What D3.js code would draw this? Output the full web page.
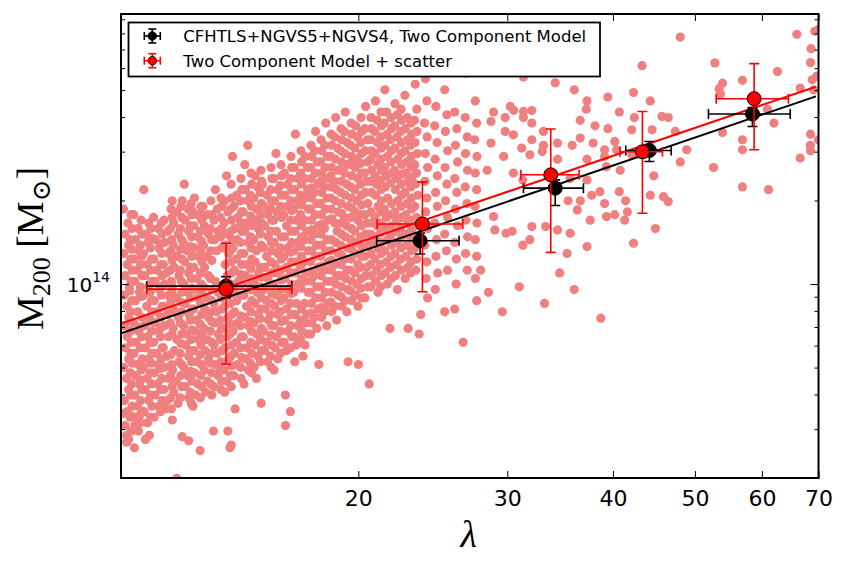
<!DOCTYPE html>
<html><head><meta charset="utf-8">
<script src="https://cdn.jsdelivr.net/npm/d3@7"></script>
<style>body{margin:0;background:#fff}svg{display:block}</style>
</head><body><svg id="c" width="846" height="571"></svg>
<script>
// ---------- axis settings ----------
const xDomain = [10.48, 70];
const yDomain = [2e13, 9.4e14];
const xTickValues = [20, 30, 40, 50, 60, 70];
const yMajorTicks = [1e14];
const yMinorTicks = [2e13,3e13,4e13,5e13,6e13,7e13,8e13,9e13,2e14,3e14,4e14,5e14,6e14,7e14,8e14,9e14];

// ---------- CFHTLS+NGVS5+NGVS4, Two Component Model (black) ----------
const blackLambda   = [13.95, 23.66, 34.18, 44.17, 58.48];
const blackLambdaLo = [11.24, 21.02, 31.35, 41.42, 51.88];
const blackLambdaHi = [16.68, 26.31, 36.91, 46.87, 64.81];
const blackMass     = [0.983e14, 1.433e14, 2.216e14, 3.028e14, 4.099e14];
const blackMassLo   = [0.892e14, 1.283e14, 1.918e14, 2.764e14, 3.698e14];
const blackMassHi   = [1.063e14, 1.528e14, 2.374e14, 3.264e14, 4.329e14];

// ---------- Two Component Model + scatter (red) ----------
const redLambda   = [13.95, 23.81, 33.77, 43.34, 58.75];
const redLambdaLo = [11.24, 21.05, 31.13, 40.79, 52.98];
const redLambdaHi = [16.68, 26.58, 36.48, 45.77, 64.5];
const redMass     = [0.959e14, 1.646e14, 2.475e14, 2.996e14, 4.655e14];
const redMassLo   = [0.514e14, 0.938e14, 1.301e14, 1.800e14, 3.046e14];
const redMassHi   = [1.402e14, 2.335e14, 3.618e14, 4.188e14, 6.226e14];

// ---------- best-fit lines ----------
const fitLambda = [10.48, 69.5];
const blackFitMass = [6.64e13, 4.746e14];
const redFitMass = [7.21e13, 5.143e14];

// ---------- individual clusters: [lambda, log10(M200/Msun)] ----------
const scatter = [
[10.55,14.27],[10.68,14.22],[10.6,14.18],[10.7,14.14],[10.56,14.11],[10.66,14.07],[10.6,14.03],[10.72,13.99],[10.57,13.96],[10.65,13.92],[10.7,13.88],[10.58,13.85],[10.66,13.81],[10.6,13.77],[10.7,13.73],[10.56,13.7],[10.64,13.66],[10.7,13.62],[10.58,13.58],[10.66,13.54],[10.6,13.49],[10.7,13.44],
[10.85,14.25],[10.98,14.2],[10.9,14.16],[11.0,14.12],[10.86,14.09],[10.95,14.05],[10.88,14.01],[11.02,13.97],[10.9,13.94],[10.97,13.9],[10.85,13.86],[11.0,13.83],[10.92,13.79],[10.86,13.75],[10.98,13.71],[10.9,13.67],[11.02,13.64],[10.88,13.6],[10.96,13.56],[10.9,13.52],[10.99,13.47],[10.87,13.41],
[11.15,14.34],[11.3,14.22],[11.2,14.18],[11.28,14.15],[11.14,14.11],[11.25,14.07],[11.18,14.03],[11.3,13.99],[11.15,13.96],[11.24,13.92],[11.32,13.88],[11.17,13.85],[11.27,13.81],[11.2,13.77],[11.3,13.73],[11.14,13.7],[11.25,13.66],[11.19,13.62],[11.3,13.58],[11.16,13.54],[11.26,13.5],[11.2,13.44],
[11.45,14.24],[11.6,14.2],[11.5,14.16],[11.62,14.13],[11.46,14.09],[11.56,14.05],[11.5,14.01],[11.63,13.98],[11.47,13.94],[11.57,13.9],[11.5,13.86],[11.62,13.83],[11.45,13.79],[11.55,13.75],[11.6,13.71],[11.48,13.68],[11.58,13.64],[11.5,13.6],[11.62,13.56],[11.47,13.52],
[11.78,14.23],[11.9,14.19],[11.8,14.15],[11.92,14.11],[11.76,14.07],[11.86,14.04],[11.8,14.0],[11.93,13.96],[11.77,13.92],[11.88,13.89],[11.8,13.85],[11.92,13.81],[11.76,13.77],[11.86,13.74],[11.8,13.7],[11.93,13.66],[11.78,13.62],[11.88,13.58],[11.82,13.55],
[12.05,14.3],[12.2,14.26],[12.1,14.22],[12.25,14.18],[12.08,14.14],[12.2,14.1],[12.12,14.06],[12.27,14.03],[12.06,13.99],[12.18,13.95],[12.1,13.91],[12.25,13.88],[12.08,13.84],[12.2,13.8],[12.12,13.76],[12.27,13.72],[12.06,13.69],[12.18,13.65],[12.1,13.61],[12.24,13.57],[12.05,13.51],[12.38,13.45],
[12.45,14.36],[12.58,14.27],[12.48,14.23],[12.6,14.19],[12.42,14.15],[12.55,14.12],[12.47,14.08],[12.6,14.04],[12.44,14.0],[12.56,13.97],[12.48,13.93],[12.62,13.89],[12.43,13.85],[12.55,13.82],[12.5,13.78],[12.6,13.74],[12.44,13.7],[12.56,13.67],[12.48,13.63],[12.6,13.59],
[12.8,14.31],[12.9,14.25],[12.78,14.21],[12.92,14.17],[12.82,14.13],[12.95,14.1],[12.78,14.06],[12.88,14.02],[12.8,13.98],[12.93,13.95],[12.77,13.91],[12.87,13.87],[12.82,13.83],[12.94,13.8],[12.78,13.76],[12.88,13.72],[12.8,13.68],[12.92,13.64],[12.84,13.6],[12.75,13.56],
[13.1,14.28],[13.25,14.25],[13.15,14.21],[13.3,14.18],[13.12,14.14],[13.24,14.1],[13.16,14.06],[13.3,14.03],[13.12,13.99],[13.25,13.95],[13.17,13.91],[13.3,13.88],[13.13,13.84],[13.25,13.8],[13.18,13.76],[13.3,13.73],[13.14,13.69],[13.26,13.65],[13.2,13.61],[13.0,13.4],
[13.55,14.34],[13.62,14.27],[13.5,14.23],[13.65,14.19],[13.52,14.16],[13.6,14.12],[13.55,14.01],[13.66,13.97],[13.5,13.93],[13.6,13.9],[13.53,13.86],[13.66,13.82],[13.5,13.78],[13.62,13.75],[13.55,13.71],[13.65,13.67],[13.5,13.63],[13.48,13.47],
[13.97,14.39],[13.9,14.3],[14.02,14.26],[13.88,14.22],[14.0,14.18],[13.9,14.14],[14.05,14.11],[13.92,14.07],[14.0,14.03],[13.86,13.99],[13.97,13.96],[13.9,13.92],[14.04,13.88],[13.88,13.84],[14.0,13.81],[13.92,13.77],[14.05,13.73],[13.88,13.69],[13.98,13.65],[13.9,13.61],[14.02,13.47],
[14.2,14.46],[14.35,14.32],[14.25,14.28],[14.4,14.24],[14.28,14.2],[14.38,14.16],[14.22,14.13],[14.35,14.09],[14.27,14.05],[14.42,14.01],[14.25,13.98],[14.36,13.94],[14.28,13.9],[14.4,13.86],[14.22,13.83],[14.34,13.79],[14.27,13.75],[14.4,13.71],[14.25,13.67],[14.3,13.55],[14.15,13.42],
[14.68,14.43],[14.8,14.5],[14.7,14.34],[14.8,14.3],[14.62,14.26],[14.75,14.22],[14.68,14.19],[14.82,14.15],[14.64,14.11],[14.76,14.07],[14.7,14.03],[14.84,14.0],[14.64,13.96],[14.75,13.92],[14.68,13.88],[14.82,13.85],[14.62,13.81],[14.75,13.77],[14.7,13.73],[14.82,13.69],[14.65,13.64],
[15.1,14.39],[15.2,14.35],[15.05,14.31],[15.18,14.27],[15.08,14.23],[15.22,14.2],[15.05,14.16],[15.15,14.12],[15.1,14.08],[15.24,14.04],[15.06,14.01],[15.17,13.97],[15.1,13.93],[15.23,13.89],[15.05,13.86],[15.16,13.82],[15.1,13.78],[15.22,13.74],[15.06,13.7],[15.15,13.66],
[15.4,14.36],[15.6,14.32],[15.48,14.28],[15.62,14.25],[15.5,14.21],[15.65,14.17],[15.45,14.13],[15.58,14.1],[15.5,14.06],[15.63,14.02],[15.46,13.98],[15.58,13.94],[15.52,13.91],[15.65,13.87],[15.45,13.83],[15.57,13.79],[15.5,13.76],[15.62,13.72],[15.35,13.57],
[15.98,14.47],[15.9,14.38],[16.05,14.34],[15.92,14.3],[16.02,14.26],[15.88,14.23],[16.0,14.19],[15.9,14.15],[16.06,14.11],[15.94,14.07],[16.02,14.04],[15.88,14.0],[16.0,13.96],[15.92,13.92],[16.06,13.89],[15.9,13.85],[16.0,13.81],[15.94,13.77],[16.06,13.73],[15.9,13.69],
[16.35,14.4],[16.5,14.36],[16.38,14.32],[16.48,14.28],[16.32,14.25],[16.45,14.21],[16.36,14.17],[16.5,14.13],[16.33,14.1],[16.44,14.06],[16.38,14.02],[16.5,13.98],[16.32,13.95],[16.44,13.91],[16.38,13.87],[16.5,13.83],[16.34,13.79],[16.44,13.76],[16.4,13.6],[16.4,13.49],[16.62,13.54],
[16.85,14.54],[16.8,14.42],[16.95,14.38],[16.82,14.34],[16.92,14.3],[16.78,14.27],[16.9,14.23],[16.82,14.19],[16.96,14.15],[16.8,14.12],[16.9,14.08],[16.84,14.04],[16.96,14.0],[16.78,13.97],[16.9,13.93],[16.84,13.89],[16.96,13.85],[16.8,13.81],[16.9,13.78],[16.82,13.72],
[17.3,14.46],[17.4,14.42],[17.28,14.38],[17.42,14.34],[17.32,14.31],[17.45,14.27],[17.28,14.23],[17.38,14.19],[17.3,14.16],[17.44,14.12],[17.26,14.08],[17.36,14.04],[17.3,14.01],[17.44,13.97],[17.28,13.93],[17.38,13.89],[17.32,13.86],[17.44,13.82],[17.3,13.78],[17.2,13.74],
[17.8,14.55],[17.75,14.48],[17.88,14.44],[17.78,14.4],[17.9,14.36],[17.74,14.33],[17.86,14.29],[17.78,14.25],[17.92,14.21],[17.76,14.18],[17.86,14.14],[17.8,14.1],[17.92,14.06],[17.74,14.03],[17.86,13.99],[17.8,13.95],[17.92,13.91],[17.76,13.88],[17.86,13.84],[17.96,13.71],
[18.3,14.58],[18.25,14.5],[18.38,14.46],[18.26,14.42],[18.4,14.38],[18.22,14.35],[18.35,14.31],[18.28,14.27],[18.4,14.23],[18.24,14.2],[18.36,14.16],[18.3,14.12],[18.42,14.08],[18.24,14.05],[18.35,14.01],[18.28,13.97],[18.4,13.93],[18.25,13.9],[18.35,13.85],
[18.8,14.6],[18.75,14.53],[18.9,14.49],[18.78,14.45],[18.92,14.41],[18.74,14.37],[18.86,14.34],[18.78,14.3],[18.92,14.26],[18.76,14.22],[18.88,14.19],[18.8,14.15],[18.94,14.11],[18.76,14.07],[18.86,14.03],[18.8,14.0],[18.92,13.96],[18.75,13.92],[18.85,13.87],
[19.3,14.62],[19.25,14.55],[19.4,14.51],[19.28,14.47],[19.42,14.43],[19.26,14.4],[19.38,14.36],[19.3,14.32],[19.44,14.28],[19.26,14.24],[19.38,14.21],[19.3,14.17],[19.44,14.13],[19.28,14.09],[19.38,14.05],[19.32,14.02],[19.44,13.98],[19.28,13.94],[19.38,13.9],[19.45,13.72],
[19.85,14.57],[19.95,14.53],[19.8,14.49],[19.92,14.45],[19.82,14.42],[19.98,14.38],[19.8,14.34],[19.92,14.3],[19.84,14.26],[19.98,14.23],[19.8,14.19],[19.92,14.15],[19.85,14.11],[19.98,14.07],[19.82,14.04],[19.92,14.0],[19.86,13.96],[19.98,13.92],[20.0,13.71],[20.6,13.64],
[20.4,14.64],[20.35,14.56],[20.5,14.52],[20.38,14.48],[20.52,14.44],[20.34,14.4],[20.46,14.37],[20.38,14.33],[20.52,14.29],[20.36,14.25],[20.48,14.22],[20.4,14.18],[20.54,14.14],[20.36,14.1],[20.46,14.06],[20.4,14.03],[20.52,13.99],[20.36,13.95],
[20.95,14.66],[21.05,14.59],[20.92,14.55],[21.06,14.51],[20.94,14.47],[21.08,14.43],[20.92,14.39],[21.02,14.36],[20.95,14.32],[21.1,14.28],[20.92,14.24],[21.04,14.21],[20.96,14.17],[21.1,14.13],[20.92,14.09],[21.02,14.05],[20.96,14.01],[21.1,13.97],
[21.5,14.7],[21.6,14.62],[21.46,14.58],[21.62,14.54],[21.5,14.5],[21.64,14.46],[21.48,14.42],[21.58,14.39],[21.52,14.35],[21.66,14.31],[21.46,14.27],[21.58,14.24],[21.52,14.2],[21.66,14.16],[21.48,14.12],[21.58,14.08],[21.52,14.04],[21.64,14.0],[21.8,13.84],
[22.1,14.65],[22.24,14.61],[22.08,14.57],[22.22,14.53],[22.1,14.49],[22.26,14.45],[22.06,14.41],[22.2,14.38],[22.12,14.34],[22.26,14.3],[22.08,14.26],[22.2,14.23],[22.12,14.19],[22.26,14.15],[22.08,14.11],[22.18,14.07],[22.12,14.03],[22.24,13.98],
[22.7,14.68],[22.85,14.6],[22.72,14.56],[22.86,14.52],[22.7,14.48],[22.82,14.44],[22.74,14.4],[22.88,14.37],[22.7,14.33],[22.82,14.29],[22.76,14.25],[22.88,14.22],[22.7,14.18],[22.82,14.14],[22.76,14.1],[22.88,14.06],[22.72,14.02],[22.9,13.84],
[23.35,14.72],[23.45,14.63],[23.3,14.59],[23.46,14.55],[23.34,14.51],[23.48,14.47],[23.32,14.43],[23.44,14.4],[23.36,14.36],[23.5,14.32],[23.32,14.28],[23.44,14.24],[23.38,14.21],[23.5,14.17],[23.32,14.13],[23.44,14.09],[23.38,14.05],[23.6,13.82],[23.7,13.89],
[24.0,14.74],[24.1,14.66],[23.95,14.58],[24.12,14.53],[24.0,14.47],[24.15,14.42],[23.98,14.37],[24.1,14.31],[24.02,14.26],[24.15,14.2],[23.96,14.14],[24.1,14.08],[24.05,14.02],[24.15,13.95],
[24.7,14.64],[24.62,14.57],[24.78,14.51],[24.65,14.45],[24.8,14.39],[24.68,14.33],[24.8,14.28],[24.62,14.22],[24.75,14.16],[24.7,14.1],[24.82,14.04],[24.66,13.98],
[25.3,14.7],[25.45,14.61],[25.35,14.55],[25.5,14.48],[25.32,14.42],[25.45,14.36],[25.36,14.3],[25.5,14.24],[25.3,14.18],[25.42,14.12],[25.5,14.05],[25.3,13.9],
[26.0,14.62],[26.15,14.56],[26.05,14.5],[26.2,14.44],[26.0,14.38],[26.15,14.33],[26.05,14.27],[26.2,14.21],[26.0,14.15],[26.12,14.09],[26.1,14.0],[26.0,13.91],
[26.8,14.76],[26.75,14.6],[26.9,14.53],[26.78,14.47],[26.92,14.41],[26.75,14.35],[26.88,14.29],[26.8,14.23],[26.92,14.17],[26.78,14.11],[26.9,14.05],[26.6,13.79],
[27.5,14.66],[27.6,14.58],[27.45,14.52],[27.62,14.46],[27.5,14.4],[27.6,14.34],[27.48,14.28],[27.62,14.22],[27.5,14.16],[27.6,14.1],[27.5,14.02],[27.6,13.94],
[10.64,13.43],[10.78,13.525],[10.88,13.49],[12.2,13.3],[12.6,13.435],[10.64,13.455],[11.32,13.455],[11.03,13.527],[10.55,13.534],[14.1,13.41],
[12.38,14.3],[12.72,14.265],[13.03,14.28],
[28.9,14.62],[30.24,14.64],[30.52,14.626],[31.35,14.622],[32.07,14.625],[32.07,14.58],[31.35,14.6],[29.83,14.6],[29.83,14.55],[31.35,14.746],[34.18,14.725],[36.0,14.7],[37.27,14.66],[39.45,14.674],[36.59,14.59],[37.2,14.63],[38.1,14.57],[39.45,14.56],[40.7,14.62],[42.3,14.69],[43.3,14.787],[44.28,14.66],[42.4,14.6],[42.1,14.556],[45.7,14.604],[46.5,14.6],[44.5,14.556],[47.4,14.55],[48.9,14.484],[48.05,14.44],[52.6,14.42],[56.9,14.52],[56.9,14.484],[53.9,14.546],[56.9,14.35],[61.1,14.34],[60.9,14.63],[62.0,14.58],[66.6,14.454],[68.5,14.48],[68.5,14.54],[69.1,14.7],[66.6,14.706],[52.8,14.797],[62.6,14.766],[68.5,14.798],[68.8,14.736],[56.9,14.734],[53.9,14.724],[53.4,14.704],[53.6,14.685],
[45.9,14.315],[44.28,14.32],[44.7,14.39],[46.5,14.297],[44.9,14.2],[42.3,14.147],[41.4,14.3],[41.6,14.26],[40.2,14.25],[41.3,14.23],[39.3,14.243],[39.1,14.29],[38.6,14.333],[40.7,14.333],[40.8,14.41],[42.1,14.466],[40.2,14.514],[40.4,14.484],[39.1,14.484],[39.1,14.46],[39.3,14.423],[37.9,14.508],[36.59,14.526],[35.8,14.5],[37.27,14.45],[37.27,14.375],[36.3,14.267],[37.6,14.23],[37.27,14.135],[35.3,14.11],[34.4,14.195],[35.6,14.183],[33.3,14.207],[32.07,14.207],[31.9,14.16],[31.3,14.14],[30.4,14.19],[29.9,14.183],[29.0,14.195],[28.9,14.243],[28.4,14.41],[30.5,14.4],[31.3,14.375],[31.2,14.49],[32.07,14.52],[33.1,14.55],[34.4,14.508],[30.5,14.538],[28.7,14.508],[29.7,14.46],[31.9,14.466],[33.1,14.5],[33.0,14.478],[34.4,14.45],[35.6,14.38],[35.4,14.3],[36.6,14.3],[37.75,14.32],[28.7,14.586],
[27.9,14.05],[28.5,13.97],[29.6,13.9],[31.0,13.99],[33.2,13.93],[34.6,14.04],[36.0,13.98],[38.7,13.877],
[48.05,14.89],[66.0,14.9],[69.97,14.917],[69.3,14.911],[68.6,14.848],[69.6,14.748],[69.97,14.52],[68.46,14.5],
[10.77,14.25],[10.8,14.2],[10.75,14.16],[10.79,14.125],[10.76,14.09],[10.8,14.05],[10.77,14.01],[10.74,13.975],[10.79,13.94],[10.76,13.9],[10.8,13.865],[10.75,13.83],[10.78,13.79],[10.76,13.75],[10.8,13.715],[10.75,13.68],[10.79,13.64],[10.76,13.6],[10.8,13.56],[10.74,13.52],[10.78,13.47],
[11.07,14.23],[11.1,14.18],[11.05,14.14],[11.09,14.1],[11.06,14.07],[11.1,14.03],[11.05,13.99],[11.08,13.955],[11.1,13.88],[11.06,13.845],[11.09,13.81],[11.05,13.77],[11.1,13.73],[11.07,13.69],[11.04,13.655],[11.09,13.62],[11.06,13.58],[11.1,13.54],[11.05,13.5],
[11.37,14.2],[11.4,14.165],[11.35,14.13],[11.39,14.09],[11.36,14.05],[11.4,14.01],[11.35,13.97],[11.38,13.94],[11.4,13.9],[11.36,13.865],[11.39,13.83],[11.35,13.79],[11.4,13.75],[11.37,13.715],[11.34,13.68],[11.39,13.64],[11.36,13.6],[11.4,13.56],[11.35,13.52],
[11.69,14.22],[11.72,14.18],[11.67,14.145],[11.71,14.11],[11.68,14.07],[11.72,14.03],[11.67,13.99],[11.7,13.96],[11.72,13.92],[11.68,13.88],[11.71,13.845],[11.67,13.81],[11.72,13.77],[11.69,13.73],[11.66,13.695],[11.71,13.66],[11.68,13.62],[11.72,13.58],[11.67,13.54],
[12.01,14.27],[12.04,14.24],[11.99,14.2],[12.03,14.16],[12.0,14.12],[12.04,14.085],[11.99,14.05],[12.02,14.01],[12.04,13.97],[12.0,13.935],[12.03,13.9],[11.99,13.86],[12.04,13.82],[12.0,13.745],[12.03,13.71],[11.99,13.67],[12.04,13.63],[12.0,13.59],[12.02,13.55],
[12.34,14.28],[12.37,14.24],[12.32,14.2],[12.36,14.16],[12.33,14.125],[12.37,14.09],[12.32,14.05],[12.35,14.01],[12.37,13.97],[12.33,13.935],[12.36,13.9],[12.32,13.86],[12.37,13.82],[12.34,13.785],[12.31,13.75],[12.36,13.71],[12.33,13.67],[12.37,13.63],[12.32,13.59],
[12.68,14.29],[12.71,14.25],[12.66,14.21],[12.7,14.17],[12.67,14.135],[12.71,14.1],[12.66,14.06],[12.69,14.02],[12.71,13.985],[12.67,13.95],[12.7,13.91],[12.66,13.87],[12.71,13.835],[12.68,13.8],[12.65,13.76],[12.7,13.72],[12.67,13.685],[12.71,13.65],[12.66,13.61],[12.69,13.57],
[13.03,14.25],[13.06,14.23],[13.01,14.19],[13.05,14.155],[13.02,14.12],[13.06,14.08],[13.01,14.04],[13.04,14.0],[13.06,13.97],[13.02,13.93],[13.05,13.89],[13.01,13.855],[13.06,13.82],[13.03,13.78],[13.0,13.745],[13.05,13.71],[13.02,13.67],[13.06,13.63],[13.01,13.59],
[13.39,14.3],[13.42,14.25],[13.37,14.2],[13.41,14.16],[13.38,14.12],[13.42,14.085],[13.37,14.02],[13.4,13.98],[13.42,13.94],[13.38,13.9],[13.41,13.865],[13.37,13.83],[13.42,13.79],[13.39,13.75],[13.36,13.715],[13.41,13.68],[13.38,13.64],[13.42,13.6],
[13.76,14.31],[13.79,14.28],[13.74,14.24],[13.78,14.2],[13.75,14.17],[13.79,14.13],[13.74,13.99],[13.77,13.95],[13.79,13.91],[13.75,13.87],[13.78,13.84],[13.74,13.8],[13.79,13.76],[13.76,13.72],[13.73,13.69],[13.78,13.65],[13.75,13.62],
[14.14,14.36],[14.17,14.31],[14.12,14.27],[14.16,14.23],[14.13,14.19],[14.17,14.16],[14.12,14.12],[14.15,14.08],[14.17,14.04],[14.13,14.0],[14.16,13.965],[14.12,13.93],[14.17,13.89],[14.14,13.855],[14.11,13.82],[14.16,13.78],[14.13,13.74],[14.17,13.705],[14.12,13.67],[14.15,13.63],
[14.53,14.38],[14.56,14.34],[14.51,14.3],[14.55,14.26],[14.52,14.22],[14.56,14.19],[14.51,14.15],[14.54,14.11],[14.56,14.07],[14.52,14.035],[14.55,14.0],[14.51,13.96],[14.53,13.885],[14.5,13.85],[14.55,13.81],[14.52,13.77],[14.56,13.735],[14.51,13.7],[14.54,13.66],
[14.93,14.4],[14.96,14.36],[14.91,14.32],[14.95,14.28],[14.92,14.245],[14.96,14.21],[14.91,14.17],[14.94,14.13],[14.96,14.09],[14.92,14.055],[14.95,14.02],[14.91,13.98],[14.96,13.94],[14.93,13.9],[14.9,13.865],[14.95,13.83],[14.92,13.79],[14.96,13.75],[14.91,13.715],[14.94,13.68],
[15.34,14.41],[15.37,14.37],[15.32,14.33],[15.36,14.29],[15.33,14.25],[15.37,14.22],[15.32,14.18],[15.35,14.14],[15.33,14.06],[15.36,14.025],[15.32,13.99],[15.37,13.95],[15.34,13.91],[15.31,13.875],[15.36,13.84],[15.33,13.8],[15.37,13.76],[15.32,13.72],
[15.77,14.42],[15.8,14.38],[15.75,14.34],[15.79,14.3],[15.76,14.27],[15.8,14.23],[15.75,14.19],[15.78,14.15],[15.8,14.12],[15.76,14.08],[15.79,14.04],[15.75,14.0],[15.8,13.965],[15.77,13.93],[15.74,13.89],[15.79,13.85],[15.76,13.815],[15.8,13.78],[15.75,13.74],[15.78,13.7],
[16.2,14.43],[16.23,14.39],[16.18,14.355],[16.22,14.32],[16.19,14.28],[16.23,14.24],[16.21,14.17],[16.18,14.13],[16.22,14.09],[16.19,14.05],[16.23,14.015],[16.18,13.98],[16.21,13.94],[16.17,13.9],[16.22,13.865],[16.19,13.83],[16.23,13.79],[16.18,13.75],
[16.65,14.46],[16.68,14.42],[16.63,14.38],[16.67,14.34],[16.64,14.3],[16.68,14.265],[16.63,14.23],[16.66,14.19],[16.68,14.15],[16.64,14.115],[16.67,14.08],[16.63,14.04],[16.68,14.0],[16.65,13.965],[16.62,13.93],[16.67,13.89],[16.64,13.85],[16.68,13.81],[16.63,13.77],
[17.11,14.48],[17.14,14.44],[17.09,14.4],[17.13,14.36],[17.1,14.32],[17.14,14.285],[17.09,14.25],[17.12,14.21],[17.14,14.17],[17.1,14.135],[17.13,14.1],[17.09,14.06],[17.14,14.02],[17.11,13.985],[17.13,13.91],[17.1,13.87],[17.14,13.83],[17.09,13.8],
[17.58,14.5],[17.61,14.46],[17.56,14.42],[17.6,14.38],[17.57,14.345],[17.61,14.31],[17.56,14.27],[17.59,14.23],[17.61,14.195],[17.57,14.16],[17.6,14.12],[17.56,14.08],[17.61,14.045],[17.58,14.01],[17.55,13.97],[17.6,13.93],[17.57,13.895],[17.61,13.86],[17.56,13.82],
[18.07,14.52],[18.1,14.48],[18.05,14.44],[18.09,14.4],[18.06,14.37],[18.1,14.33],[18.05,14.29],[18.08,14.25],[18.1,14.215],[18.06,14.18],[18.09,14.14],[18.05,14.1],[18.1,14.065],[18.07,14.03],[18.04,13.99],[18.09,13.95],[18.06,13.915],[18.1,13.88],
[18.57,14.54],[18.6,14.5],[18.55,14.46],[18.59,14.42],[18.56,14.39],[18.6,14.35],[18.55,14.31],[18.58,14.27],[18.6,14.235],[18.59,14.16],[18.55,14.12],[18.6,14.085],[18.57,14.05],[18.54,14.01],[18.59,13.97],[18.56,13.935],[18.6,13.9],
[19.08,14.56],[19.11,14.52],[19.06,14.48],[19.1,14.44],[19.07,14.41],[19.11,14.37],[19.06,14.33],[19.09,14.29],[19.11,14.255],[19.07,14.22],[19.1,14.18],[19.06,14.14],[19.11,14.105],[19.08,14.07],[19.05,14.03],[19.1,13.99],[19.07,13.955],[19.11,13.92],
[19.61,14.58],[19.64,14.54],[19.59,14.5],[19.63,14.46],[19.6,14.43],[19.64,14.39],[19.59,14.35],[19.62,14.31],[19.64,14.275],[19.6,14.24],[19.63,14.2],[19.59,14.16],[19.64,14.125],[19.61,14.09],[19.58,14.05],[19.63,14.01],[19.6,13.975],[19.64,13.94],
[20.15,14.6],[20.18,14.55],[20.13,14.51],[20.17,14.47],[20.14,14.435],[20.18,14.4],[20.13,14.36],[20.16,14.32],[20.18,14.285],[20.14,14.25],[20.17,14.21],[20.13,14.17],[20.18,14.135],[20.15,14.1],[20.12,14.06],[20.17,14.02],[20.14,13.985],[20.18,13.95],
[20.7,14.6],[20.73,14.56],[20.68,14.52],[20.72,14.48],[20.69,14.45],[20.73,14.41],[20.68,14.37],[20.71,14.33],[20.69,14.26],[20.72,14.22],[20.68,14.18],[20.73,14.15],[20.7,14.11],[20.67,14.07],[20.72,14.03],[20.69,13.99],
[21.27,14.62],[21.3,14.57],[21.25,14.53],[21.29,14.49],[21.26,14.45],[21.3,14.41],[21.25,14.375],[21.28,14.34],[21.3,14.3],[21.26,14.26],[21.29,14.22],[21.25,14.185],[21.3,14.15],[21.27,14.11],[21.24,14.07],[21.29,14.03],[21.26,13.99],
[21.86,14.6],[21.89,14.56],[21.84,14.52],[21.88,14.48],[21.85,14.44],[21.89,14.4],[21.84,14.365],[21.89,14.29],[21.85,14.25],[21.88,14.21],[21.84,14.175],[21.89,14.14],[21.86,14.1],[21.83,14.06],[21.88,14.02],
[22.47,14.63],[22.5,14.59],[22.45,14.55],[22.49,14.51],[22.46,14.47],[22.5,14.43],[22.45,14.395],[22.48,14.36],[22.5,14.32],[22.46,14.28],[22.49,14.24],[22.45,14.205],[22.5,14.17],[22.47,14.13],[22.44,14.09],[22.49,14.05],
[23.09,14.58],[23.12,14.54],[23.07,14.5],[23.11,14.46],[23.08,14.42],[23.12,14.385],[23.07,14.35],[23.1,14.31],[23.12,14.27],[23.08,14.23],[23.11,14.195],[23.07,14.16],[23.12,14.12],[23.09,14.08],[23.06,14.04]
];

// ---------- drawing ----------
const svg = d3.select("#c");
const X0 = 121, X1 = 818.5, Y0 = 14, Y1 = 478;
const x = d3.scaleLog().domain(xDomain).range([X0, X1]);
const y = d3.scaleLog().domain(yDomain).range([Y1, Y0]);

svg.append("rect").attr("width", 846).attr("height", 571).attr("fill", "#fff");
svg.append("defs").append("clipPath").attr("id", "clip")
  .append("rect").attr("x", X0).attr("y", Y0).attr("width", X1 - X0).attr("height", Y1 - Y0);
const plot = svg.append("g").attr("clip-path", "url(#clip)");

plot.append("g").selectAll("circle").data(scatter).join("circle")
  .attr("cx", d => x(d[0])).attr("cy", d => y(Math.pow(10, d[1])))
  .attr("r", 4.6).attr("fill", "#F08080");

const line = d3.line().x(d => x(d[0])).y(d => y(d[1]));
plot.append("path").datum(d3.zip(fitLambda, blackFitMass)).attr("d", line)
  .attr("fill", "none").attr("stroke", "#000").attr("stroke-width", 2);
plot.append("path").datum(d3.zip(fitLambda, redFitMass)).attr("d", line)
  .attr("fill", "none").attr("stroke", "#ff0000").attr("stroke-width", 2);

function drawSeries(lam, lo, hi, m, mlo, mhi, color) {
  const g = plot.append("g").attr("stroke", color).attr("stroke-width", 1.6);
  const cap = 5;
  lam.forEach((l, i) => {
    const cx = x(l), cy = y(m[i]);
    const xl = x(lo[i]), xh = x(hi[i]), yl = y(mlo[i]), yh = y(mhi[i]);
    g.append("line").attr("x1", xl).attr("x2", xh).attr("y1", cy).attr("y2", cy);
    g.append("line").attr("x1", xl).attr("x2", xl).attr("y1", cy - cap).attr("y2", cy + cap);
    g.append("line").attr("x1", xh).attr("x2", xh).attr("y1", cy - cap).attr("y2", cy + cap);
    g.append("line").attr("x1", cx).attr("x2", cx).attr("y1", yl).attr("y2", yh);
    g.append("line").attr("x1", cx - cap).attr("x2", cx + cap).attr("y1", yl).attr("y2", yl);
    g.append("line").attr("x1", cx - cap).attr("x2", cx + cap).attr("y1", yh).attr("y2", yh);
  });
  plot.append("g").selectAll("circle").data(lam).join("circle")
    .attr("cx", d => x(d)).attr("cy", (d, i) => y(m[i])).attr("r", 7)
    .attr("fill", color).attr("stroke", "#000").attr("stroke-width", 1);
}
drawSeries(blackLambda, blackLambdaLo, blackLambdaHi, blackMass, blackMassLo, blackMassHi, "#000");
drawSeries(redLambda, redLambdaLo, redLambdaHi, redMass, redMassLo, redMassHi, "#ff0000");

// ---------- axes ----------
function styleAxis(g) {
  g.select(".domain").remove();
  g.selectAll(".tick line").attr("stroke", "#000").attr("stroke-width", 1);
  g.selectAll("text").attr("fill", "#000");
}
svg.append("g").attr("transform", `translate(0,${Y1})`)
  .call(d3.axisBottom(x).tickValues(xTickValues).tickSize(-7).tickPadding(12).tickFormat(d3.format("d")))
  .call(styleAxis)
  .selectAll("text").attr("font-family", "DejaVu Sans").attr("font-size", 22);
svg.append("g").attr("transform", `translate(0,${Y0})`)
  .call(d3.axisTop(x).tickValues(xTickValues).tickSize(-7).tickFormat(""))
  .call(styleAxis);
svg.append("g").attr("transform", `translate(${X0},0)`)
  .call(d3.axisLeft(y).tickValues(yMinorTicks).tickSize(-4).tickFormat("")).call(styleAxis);
svg.append("g").attr("transform", `translate(${X0},0)`)
  .call(d3.axisLeft(y).tickValues(yMajorTicks).tickSize(-8).tickFormat("")).call(styleAxis);
svg.append("g").attr("transform", `translate(${X1},0)`)
  .call(d3.axisRight(y).tickValues(yMinorTicks).tickSize(-4).tickFormat("")).call(styleAxis);
svg.append("g").attr("transform", `translate(${X1},0)`)
  .call(d3.axisRight(y).tickValues(yMajorTicks).tickSize(-8).tickFormat("")).call(styleAxis);

// 10^14 label
yMajorTicks.forEach(v => {
  const t = svg.append("text").attr("x", 110).attr("y", y(v) + 8).attr("text-anchor", "end")
    .attr("font-family", "DejaVu Sans").attr("font-size", 20).attr("fill", "#000");
  t.append("tspan").text("10");
  t.append("tspan").attr("font-size", 14).attr("dy", -10).text(String(Math.round(Math.log10(v))));
});

// frame
svg.append("rect").attr("x", X0).attr("y", Y0).attr("width", X1 - X0).attr("height", Y1 - Y0)
  .attr("fill", "none").attr("stroke", "#000").attr("stroke-width", 2);

// axis titles
svg.append("text").attr("x", (X0 + X1) / 2 - 1).attr("y", 547).attr("text-anchor", "middle")
  .attr("font-family", "Liberation Serif, DejaVu Serif, serif").attr("font-style", "italic")
  .attr("font-size", 38).attr("fill", "#000").text("λ");
const yl = svg.append("text").attr("transform", "translate(43,248.5) rotate(-90)")
  .attr("text-anchor", "middle").attr("font-family", "Liberation Serif, DejaVu Serif, serif")
  .attr("font-size", 38).attr("fill", "#000");
yl.append("tspan").text("M");
yl.append("tspan").attr("font-size", 26).attr("dy", 7).text("200");
yl.append("tspan").attr("dy", -7).text(" [M");
yl.append("tspan").attr("font-size", 26).attr("dy", 7).text("⊙");
yl.append("tspan").attr("dy", -7).text("]");

// ---------- legend ----------
const legendLabels = ["CFHTLS+NGVS5+NGVS4, Two Component Model", "Two Component Model + scatter"];
const legendColors = ["#000", "#ff0000"];
const lg = svg.append("g");
lg.append("rect").attr("x", 128.5).attr("y", 22.5).attr("width", 471.5).attr("height", 54)
  .attr("fill", "#fff").attr("stroke", "#000").attr("stroke-width", 1.8);
legendLabels.forEach((lab, i) => {
  const cy = 36 + i * 24.7, cx = 152.3, c = legendColors[i];
  const g = lg.append("g").attr("stroke", c).attr("stroke-width", 1.6);
  g.append("line").attr("x1", cx - 8).attr("x2", cx + 8).attr("y1", cy).attr("y2", cy);
  g.append("line").attr("x1", cx - 8).attr("x2", cx - 8).attr("y1", cy - 4).attr("y2", cy + 4);
  g.append("line").attr("x1", cx + 8).attr("x2", cx + 8).attr("y1", cy - 4).attr("y2", cy + 4);
  g.append("line").attr("x1", cx).attr("x2", cx).attr("y1", cy - 7).attr("y2", cy + 7);
  g.append("line").attr("x1", cx - 4).attr("x2", cx + 4).attr("y1", cy - 7).attr("y2", cy - 7);
  g.append("line").attr("x1", cx - 4).attr("x2", cx + 4).attr("y1", cy + 7).attr("y2", cy + 7);
  lg.append("circle").attr("cx", cx).attr("cy", cy).attr("r", 4.3).attr("fill", c)
    .attr("stroke", "#000").attr("stroke-width", 0.8);
  lg.append("text").attr("x", 183.3).attr("y", cy + 5.8).attr("font-family", "DejaVu Sans")
    .attr("font-size", 16.5).attr("fill", "#000").text(lab);
});
</script></body></html>
